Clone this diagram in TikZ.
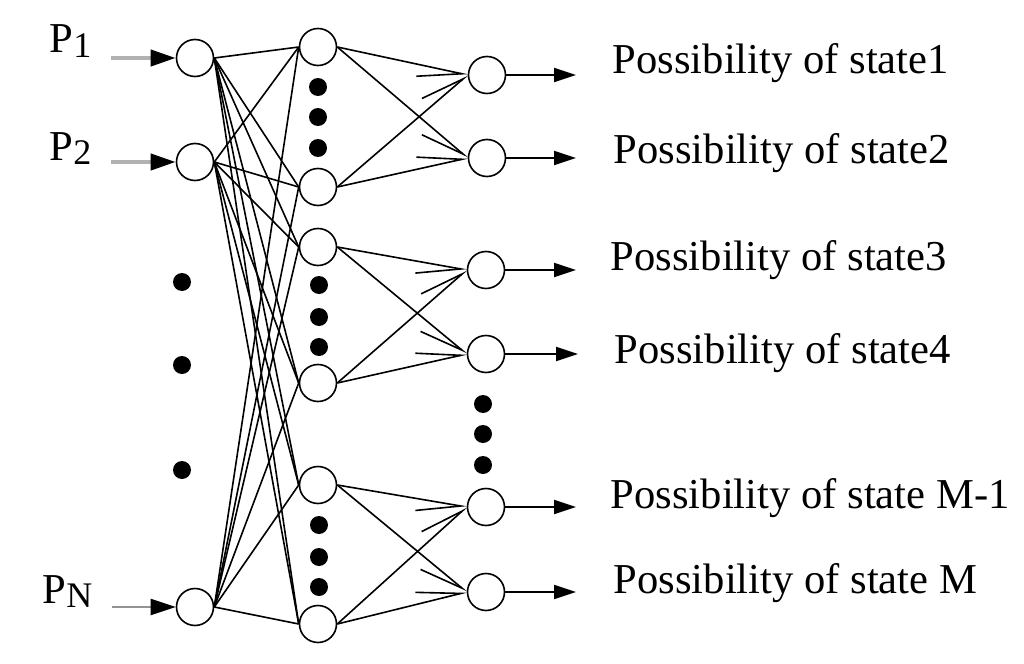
\documentclass[tikz,border=0pt]{standalone}
\usepackage{fontspec}
\setmainfont{Liberation Serif}
\usetikzlibrary{arrows.meta}
\newcommand{\lowsub}[1]{\raisebox{-2pt}{\fontsize{18}{18}\selectfont #1}}

\begin{document}
\begin{tikzpicture}[x=0.5pt,y=-0.5pt,line width=0.8pt,
    upr/.style={-{Straight Barb[right,length=22pt,width=12pt]}},
    lwr/.style={-{Straight Barb[left,length=22pt,width=12pt]}},
    inarr/.style={line width=2pt,-{Triangle[length=12.5pt,width=8pt,color=black]}},
    outarr/.style={line width=1pt,-{Triangle[length=11pt,width=7pt]}}]

        \useasboundingbox (0,0) rectangle (1024,664);

        \begin{scope}[every node/.style={circle,draw,minimum size=18.5pt,inner sep=0pt}]
          \node (i1) at (195,58)  {};
          \node (i2) at (195,162) {};
          \node (iN) at (195,607) {};
          \node (h1) at (318,47)  {};
          \node (h2) at (318,187) {};
          \node (h3) at (318,247) {};
          \node (h4) at (318,383) {};
          \node (h5) at (318,485) {};
          \node (h6) at (318,624) {};
          \node (o1) at (487,75)  {};
          \node (o2) at (487,158) {};
          \node (o3) at (486,270) {};
          \node (o4) at (486,354) {};
          \node (o5) at (486,507) {};
          \node (o6) at (486,592) {};
        \end{scope}

        % dots
        \begin{scope}[every node/.style={circle,fill,minimum size=9pt,inner sep=0pt}]
          \node (l1) at (182,282) {};
          \node (l2) at (182,365) {};
          \node (l3) at (182,470) {};
          \node (a1) at (318,87)  {};
          \node (a2) at (318,117) {};
          \node (a3) at (318,148) {};
          \node (b1) at (319,285) {};
          \node (b2) at (319,317) {};
          \node (b3) at (319,347) {};
          \node (c1) at (319,525) {};
          \node (c2) at (319,557) {};
          \node (c3) at (319,587) {};
          \node (r1) at (483,404) {};
          \node (r2) at (483,434) {};
          \node (r3) at (483,465) {};
        \end{scope}

        \begin{scope}[every node/.style={anchor=base west,inner sep=0pt,font=\fontsize{21.3}{24}\selectfont}]
          \node (n1) at (49,53)  {P\lowsub{1}};
          \node (n2) at (49,160) {P\lowsub{2}};
          \node (nN) at (42,603) {P\lowsub{N}};
          \node (t1) at (612,73)  {Possibility of state1};
          \node (t2) at (613,163) {Possibility of state2};
          \node (t3) at (610,270) {Possibility of state3};
          \node (t4) at (614,363) {Possibility of state4};
          \node (t5) at (610,508) {Possibility of state M-1};
          \node (t6) at (613,593) {Possibility of state M};
        \end{scope}

        \coordinate (p1) at (111,58);
        \coordinate (p2) at (111,162);
        \coordinate (pN) at (112,607);
        \coordinate (s1) at (576,75);
        \coordinate (s2) at (576,158);
        \coordinate (s3) at (576,270);
        \coordinate (s4) at (578,354);
        \coordinate (s5) at (576,507);
        \coordinate (s6) at (576,592);

        \draw[inarr,gray!60] (p1) -- (i1.west);
        \draw[inarr,gray!60] (p2) -- (i2.west);
        \draw[inarr,gray!85,line width=1.2pt] (pN) -- (iN.west);

        \begin{scope}[every edge/.style={draw}]
          \path (i1.east) edge (h1.west);
          \path (i1.east) edge (h2.west);
          \path (i1.east) edge (h3.west);
          \path (i1.east) edge (h4.west);
          \path (i1.east) edge (h5.west);
          \path (i1.east) edge (h6.west);
          \path (i2.east) edge (h1.west);
          \path (i2.east) edge (h2.west);
          \path (i2.east) edge (h3.west);
          \path (i2.east) edge (h4.west);
          \path (i2.east) edge (h5.west);
          \path (i2.east) edge (h6.west);
          \path (iN.east) edge (h1.west);
          \path (iN.east) edge (h2.west);
          \path (iN.east) edge (h3.west);
          \path (iN.east) edge (h4.west);
          \path (iN.east) edge (h5.west);
          \path (iN.east) edge (h6.west);

          \path (h1.east) edge[upr] (o1.west);
          \path (h1.east) edge[upr] (o2.west);
          \path (h2.east) edge[lwr] (o1.west);
          \path (h2.east) edge[lwr] (o2.west);
          \path (h3.east) edge[upr] (o3.west);
          \path (h3.east) edge[upr] (o4.west);
          \path (h4.east) edge[lwr] (o3.west);
          \path (h4.east) edge[lwr] (o4.west);
          \path (h5.east) edge[upr] (o5.west);
          \path (h5.east) edge[upr] (o6.west);
          \path (h6.east) edge[lwr] (o5.west);
          \path (h6.east) edge[lwr] (o6.west);
        \end{scope}

        \draw[outarr] (o1.east) -- (s1);
        \draw[outarr] (o2.east) -- (s2);
        \draw[outarr] (o3.east) -- (s3);
        \draw[outarr] (o4.east) -- (s4);
        \draw[outarr] (o5.east) -- (s5);
        \draw[outarr] (o6.east) -- (s6);

      \end{tikzpicture}
\end{document}
